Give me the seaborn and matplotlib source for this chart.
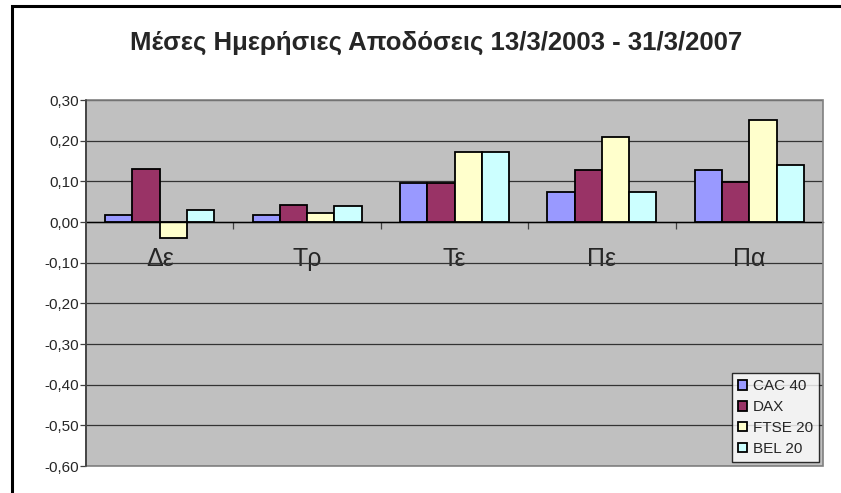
import numpy as np
import pandas as pd
import matplotlib
matplotlib.use("Agg")
import matplotlib.pyplot as plt
from matplotlib.patches import Rectangle
from matplotlib.ticker import FixedLocator, FuncFormatter
import seaborn as sns

# --- Data ---
days = ["Δε", "Τρ", "Τε", "Πε", "Πα"]
indices = ["CAC 40", "DAX", "FTSE 20", "BEL 20"]
cac40 = [0.016, 0.016, 0.097, 0.075, 0.128]
dax = [0.131, 0.043, 0.097, 0.128, 0.098]
ftse20 = [-0.040, 0.021, 0.172, 0.208, 0.252]
bel20 = [0.030, 0.039, 0.172, 0.075, 0.141]
colors = ["#9999FF", "#993366", "#FFFFCC", "#CCFFFF"]
title = "Μέσες Ημερήσιες Αποδόσεις 13/3/2003 - 31/3/2007"

df = pd.DataFrame({"day": days, "CAC 40": cac40, "DAX": dax,
                   "FTSE 20": ftse20, "BEL 20": bel20})
df = df.melt(id_vars="day", var_name="index", value_name="ret")

sns.set_style("white")
plt.rcParams["font.family"] = ["Liberation Sans", "DejaVu Sans"]

fig = plt.figure(figsize=(8.41, 4.93), dpi=100)
ax = fig.add_axes([86 / 841, 1 - 466 / 493, 737 / 841, 366 / 493])
ax.set_facecolor("#C0C0C0")

sns.barplot(data=df, x="day", y="ret", hue="index", hue_order=indices,
            order=days, palette=colors, width=0.74, edgecolor="black",
            linewidth=1.3, saturation=1, ax=ax, legend=True)


def comma_fmt(v, pos):
    v = round(v, 2)
    if abs(v) < 1e-9:
        v = 0.0
    return f"{v:.2f}".replace(".", ",")


# --- axes ---
ax.set_ylim(-0.6, 0.3)
ax.set_xlim(-0.5, len(days) - 0.5)
yt = np.round(np.arange(-0.6, 0.31, 0.1), 2)
ax.set_yticks(yt)
ax.yaxis.set_major_formatter(FuncFormatter(comma_fmt))
ax.yaxis.grid(True, color="#333333", linewidth=0.9)
ax.set_axisbelow(True)
ax.set_xlabel("")
ax.set_ylabel("")

for s in ["top", "right", "left"]:
    ax.spines[s].set_visible(False)
ax.spines["bottom"].set_position(("data", 0))
ax.spines["bottom"].set_color("black")
ax.spines["bottom"].set_linewidth(1.0)
ax.spines["bottom"].set_zorder(5)

ax.add_patch(Rectangle((0, 0), 1, 1, transform=ax.transAxes, fill=False,
                       edgecolor="#808080", linewidth=1.2, zorder=6, clip_on=False))
ax.plot([0, 0], [0, 1], transform=ax.transAxes, color="#404040",
        linewidth=1.3, zorder=7, clip_on=False)

ax.tick_params(axis="y", which="major", length=4, width=0.9, color="#404040",
               direction="out", labelsize=11, pad=1, left=True)
ax.tick_params(axis="x", which="major", length=0, labelsize=18, pad=18)
ax.xaxis.set_minor_locator(FixedLocator(np.arange(0.5, len(days) - 1, 1.0)))
ax.tick_params(axis="x", which="minor", length=5, width=0.9, color="#404040",
               direction="out", bottom=True)

# --- legend ---
leg = ax.legend(loc="lower right", bbox_to_anchor=(0.995, 0.011),
                borderaxespad=0, frameon=True, fancybox=False,
                edgecolor="black", fontsize=11, handlelength=0.6,
                handleheight=0.6, handletextpad=0.4, labelspacing=0.45,
                borderpad=0.4)
leg.get_frame().set_linewidth(1.0)
leg.set_zorder(10)

# --- title and outer frame ---
fig.text(436 / 841, 1 - 43 / 493, title, ha="center", va="center",
         fontsize=18.5, fontweight="bold")
fig.patches.append(Rectangle((12 / 841, -0.1), 1.2, 1 - 6 / 493 + 0.1,
                             transform=fig.transFigure, fill=False,
                             edgecolor="black", linewidth=2.2))

fig.savefig("out.png", dpi=100)
